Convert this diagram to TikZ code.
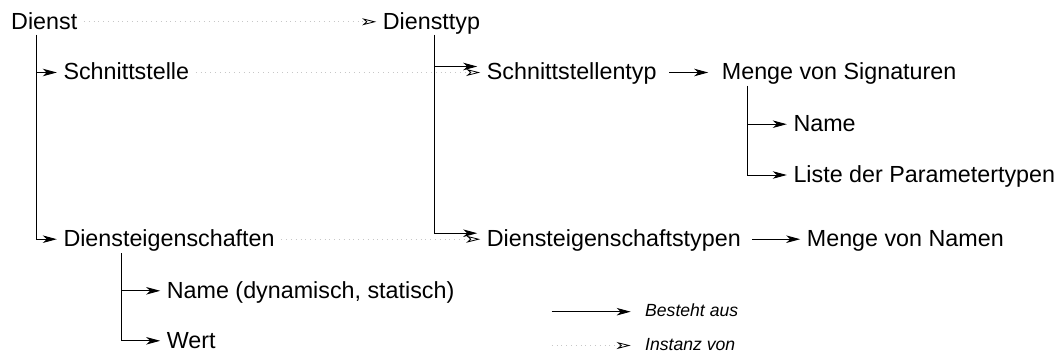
\documentclass[tikz,border=0pt]{standalone}
\usepackage{fontspec}
\setmainfont{Liberation Sans}
\usetikzlibrary{arrows.meta}
\begin{document}
\begin{tikzpicture}[x=1pt, y=-1pt,
  term/.style={anchor=base west, inner xsep=6.5pt, inner ysep=0pt,
    text height=16.5pt, text depth=1.5pt,
    font=\fontsize{23.3}{28}\selectfont},
  legendtext/.style={anchor=base west, inner sep=0pt,
    font=\fontsize{17.6}{21}\selectfont\itshape},
  consists/.style={draw=black, line width=0.9pt,
    -{Stealth[length=14pt, width=7.5pt, inset=4pt]}},
  instance/.style={draw=black!22, line width=0.8pt,
    dash pattern=on 0.8pt off 4pt,
    -{Stealth[open, length=14pt, width=7pt, inset=4pt, color=black]}},
]
\useasboundingbox (0,0) rectangle (1059,358);

% concepts
\node[term] (dienst) at (4.5,29.3)   {Dienst};
\node[term] (dtyp)   at (376.2,29.3) {Diensttyp};
\node[term] (schnitt) at (56.8,80)   {Schnittstelle};
\node[term] (styp)   at (480.2,80)   {Schnittstellentyp};
\node[term] (msig)   at (715.2,80)   {Menge von Signaturen};
\node[term] (sname)  at (786.8,131.7) {Name};
\node[term] (liste)  at (786.8,182.5) {Liste der Parametertypen};
\node[term] (deig)   at (56.8,246.7) {Diensteigenschaften};
\node[term] (dtypen) at (480.2,246.7) {Diensteigenschaftstypen};
\node[term] (mnam)   at (800.2,246.7) {Menge von Namen};
\node[term] (pname)  at (160.2,298.3) {Name (dynamisch, statisch)};
\node[term] (wert)   at (160.2,348.3) {Wert};

% "consists of" trees
\draw[consists] ([xshift=31.5pt,yshift=-5.7pt]dienst.base west) |- (schnitt.west);
\draw[consists] ([xshift=31.5pt,yshift=-5.7pt]dienst.base west) |- (deig.west);

\draw[consists] ([xshift=58.1pt,yshift=-5.7pt]dtyp.base west) |- ([xshift=-3pt,yshift=6pt]styp.west);
\draw[consists] ([xshift=58.1pt,yshift=-5.7pt]dtyp.base west) |- ([xshift=-3pt,yshift=6pt]dtypen.west);

\draw[consists] ([xshift=32.5pt,yshift=-6pt]msig.base west) |- (sname.west);
\draw[consists] ([xshift=32.5pt,yshift=-6pt]msig.base west) |- (liste.west);

\draw[consists] ([xshift=64.2pt,yshift=-6.6pt]deig.base west) |- (pname.west);
\draw[consists] ([xshift=64.2pt,yshift=-6.6pt]deig.base west) |- (wert.west);

\draw[consists] ([xshift=6pt]styp.east) -- ([xshift=-7pt]msig.west);
\draw[consists] ([xshift=5pt]dtypen.east) -- (mnam.west);

% "instance of" links
\draw[instance] (dienst.east) -- (dtyp.west);
\draw[instance] (schnitt.east) -- (styp.west);
\draw[instance] (deig.east) -- (dtypen.west);

% legend
\coordinate (c1a) at (551.7,311.7);
\coordinate (c1b) at (630.7,311.7);
\coordinate (c2a) at (551.7,345.5);
\coordinate (c2b) at (630.7,345.5);
\draw[consists] (c1a) -- (c1b);
\draw[instance] (c2a) -- (c2b);
\node[legendtext] (besteht) at (645,316.7) {Besteht aus};
\node[legendtext] (instanz) at (645,350.5) {Instanz von};
\end{tikzpicture}
\end{document}
